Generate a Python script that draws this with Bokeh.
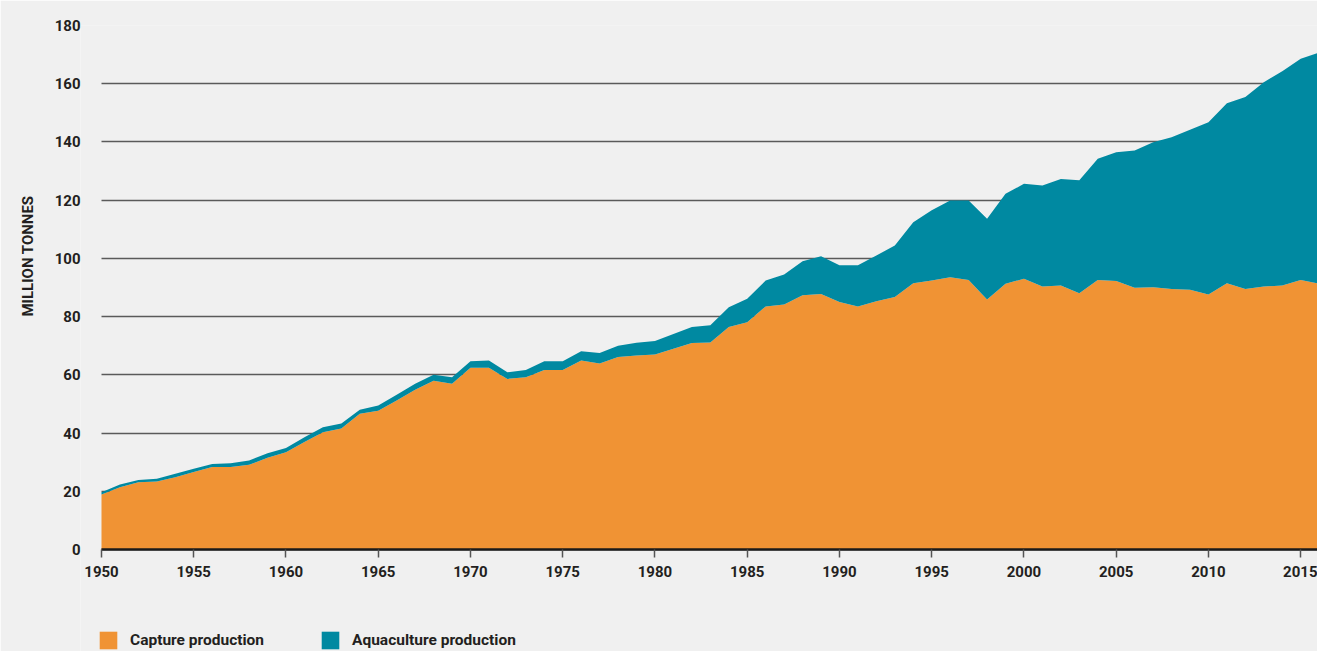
import math
from bokeh.plotting import figure
from bokeh.models import ColumnDataSource, Range1d, FixedTicker, Legend, LegendItem, Title, BoxAnnotation
from bokeh.embed import file_html
from bokeh.resources import INLINE

years = list(range(1950, 2017))
capture = [18.9, 21.4, 23.1, 23.4, 24.8, 26.6, 28.3, 28.3, 29.1, 31.5,
           33.4, 36.9, 40.3, 41.6, 46.6, 47.7, 51.2, 54.9, 58.0, 56.9,
           62.4, 62.4, 58.6, 59.2, 61.7, 61.7, 64.9, 63.9, 66.1, 66.6,
           67.0, 69.0, 70.9, 71.1, 76.4, 78.1, 83.5, 84.2, 87.3, 87.8,
           85.0, 83.5, 85.3, 86.7, 91.5, 92.4, 93.5, 92.6, 85.9, 91.3,
           93.0, 90.3, 90.7, 88.0, 92.6, 92.2, 89.9, 90.1, 89.5, 89.2,
           87.6, 91.5, 89.5, 90.3, 90.7, 92.6, 91.3]
aquaculture = [0.8, 0.9, 0.8, 0.9, 1.2, 1.1, 1.1, 1.3, 1.5, 1.6,
               1.5, 1.7, 1.7, 1.7, 1.4, 1.8, 2.0, 2.0, 2.0, 2.3,
               2.3, 2.5, 2.3, 2.5, 3.0, 3.0, 3.2, 3.6, 3.9, 4.4,
               4.6, 5.0, 5.5, 5.9, 6.8, 8.0, 8.9, 10.3, 11.7, 12.9,
               12.6, 14.1, 15.7, 17.7, 20.9, 24.1, 26.4, 27.3, 27.7, 30.9,
               32.6, 34.7, 36.6, 38.8, 41.6, 44.3, 47.2, 49.8, 52.1, 55.0,
               59.2, 61.8, 65.9, 70.2, 73.6, 76.0, 79.4]
x_ticks = [1950, 1955, 1960, 1965, 1970, 1975, 1980, 1985, 1990, 1995, 2000, 2005, 2010, 2015]
y_ticks = [0, 20, 40, 60, 80, 100, 120, 140, 160, 180]
series_names = ["Capture production", "Aquaculture production"]
series_colors = ["#F09334", "#0089A1"]
y_title = "MILLION TONNES"

FONT = "Roboto"
TXT = "#231f20"
BG = "#f0f0f0"

source = ColumnDataSource(dict(year=years, capture=capture, aquaculture=aquaculture))

# frame extends below zero and a little left of 1950, so that the x axis
# (fixed at 0), its first label and the legend sit inside it
p = figure(width=1317, height=651, output_backend="svg", toolbar_location=None,
           x_range=Range1d(1948.862, 2015.91), y_range=Range1d(-35.04, 180),
           min_border_left=80, min_border_right=0, min_border_top=25, min_border_bottom=0)
p.background_fill_color = BG
p.border_fill_color = BG
p.outline_line_color = None

rends = p.varea_stack(["capture", "aquaculture"], x="year", color=series_colors, source=source)

# axes
xa = p.xaxis[0]
xa.fixed_location = 0
xa.bounds = (years[0], years[-1])
xa.ticker = FixedTicker(ticks=x_ticks)
xa.axis_line_color = "#1a1a1a"
xa.axis_line_width = 2.5
xa.major_tick_line_color = "#555555"
xa.major_tick_line_width = 1.5
xa.major_tick_out = 8
xa.major_tick_in = 0
xa.minor_tick_line_color = None
xa.major_label_text_font = FONT
xa.major_label_text_font_size = "15px"
xa.major_label_text_font_style = "bold"
xa.major_label_text_color = TXT
xa.major_label_standoff = 9

ya = p.yaxis[0]
ya.ticker = FixedTicker(ticks=y_ticks)
ya.axis_line_color = None
ya.major_tick_line_color = None
ya.minor_tick_line_color = None
ya.major_label_text_font = FONT
ya.major_label_text_font_size = "15px"
ya.major_label_text_font_style = "bold"
ya.major_label_text_color = TXT
ya.major_label_standoff = -6

grid = p.ygrid[0]
p.xgrid.grid_line_color = None
grid.ticker = FixedTicker(ticks=y_ticks)
grid.grid_line_color = "#5a5a5a"
grid.grid_line_width = 1.7
if "cross_bounds" in grid.properties():
    grid.cross_bounds = (years[0], years[-1])
else:
    cover = BoxAnnotation(right=years[0], fill_color=BG, fill_alpha=1, line_color=None, level="underlay")
    p.add_layout(cover)

# y-axis title
t = Title(text=y_title, align="right", offset=170, standoff=30,
          text_font=FONT, text_font_size="15px", text_font_style="bold",
          text_color=TXT)
p.add_layout(t, "left")

legend = Legend(items=[LegendItem(label=series_names[0], renderers=[rends[0]]),
                       LegendItem(label=series_names[1], renderers=[rends[1]])],
                location=(17, 0), orientation="horizontal",
                glyph_width=22, glyph_height=22, label_standoff=11, spacing=55,
                padding=0, margin=0, background_fill_alpha=0, border_line_alpha=0,
                label_text_font=FONT, label_text_font_size="15.5px",
                label_text_font_style="bold", label_text_color=TXT)
p.add_layout(legend, "center")

open("out.html", "w").write(file_html(p, INLINE))
